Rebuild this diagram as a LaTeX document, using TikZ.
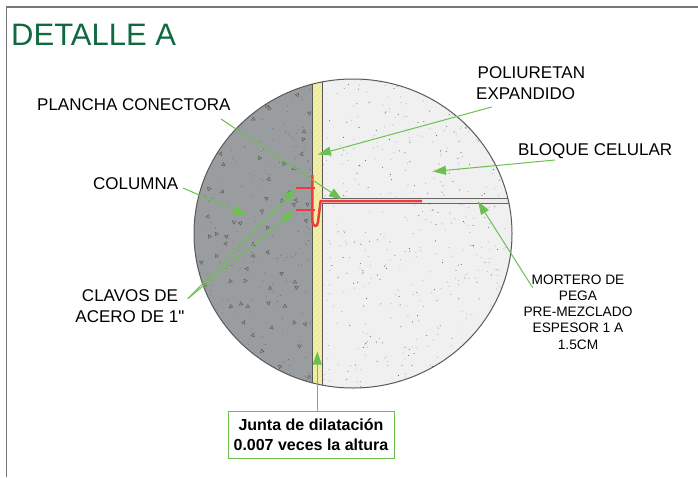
\documentclass[tikz,border=0pt]{standalone}
\usepackage{fontspec}
\setmainfont{Liberation Sans}
\newfontfamily\plainquote{Liberation Sans}
\usetikzlibrary{arrows.meta}
\definecolor{leader}{HTML}{6CC04F}
\definecolor{titlegreen}{HTML}{11693F}
\definecolor{framegray}{HTML}{777777}
\definecolor{colgray}{HTML}{9A9D9F}
\definecolor{blockgray}{HTML}{F0F0F0}
\definecolor{jointyellow}{HTML}{F3F0A2}
\definecolor{steelred}{HTML}{EE3B3B}
\tikzset{
  leaderline/.style={draw=leader,line width=1pt,-{Triangle[length=13pt,width=9pt]}},
  label text/.style={font=\fontsize{17}{21}\selectfont,text=black,inner sep=0pt,align=center},
  small label/.style={font=\fontsize{13.7}{16.2}\selectfont,text=black,inner sep=0pt,align=center},
  steel/.style={draw=steelred,line width=2.5pt},
  wall/.style={draw=black!65,line width=0.9pt}
}
\begin{document}
\begin{tikzpicture}[x=1pt,y=-1pt]
\useasboundingbox (0,0) rectangle (698,477);
\fill[white] (0,0) rectangle (698,477);
\draw[framegray,line width=1.1pt] (6.5,477) -- (6.5,7) -- (698,7);
\node[anchor=west,inner sep=0pt,text=titlegreen,font=\fontsize{31}{34}\selectfont] (title) at (11,35) {DETALLE A};
\begin{scope}
  \clip (353,233.5) ellipse [x radius=159,y radius=154.5];
  \fill[colgray] (190,70) rectangle (312.5,395);
  \fill[blockgray] (322,70) rectangle (515,395);
  \fill[jointyellow] (312.5,70) rectangle (322,395);
  \begin{scope}
    \clip (312.5,70) rectangle (322,395);
    \foreach \k in {0,5,...,330}
      \draw[white!60!jointyellow!85!black,line width=0.3pt] (312,70+\k) -- (323,59+\k);
  \end{scope}
  \pgfmathsetseed{4217}
  % block speckle
  \foreach \i in {1,...,420}{
    \pgfmathsetmacro\px{323+rnd*188}
    \pgfmathsetmacro\py{78+rnd*312}
    \pgfmathsetmacro\pc{rnd<0.45?70:35}
    \fill[black!\pc] (\px,\py) circle (0.5);
  }
  \foreach \i in {1,...,90}{
    \pgfmathsetmacro\px{323+rnd*188}
    \pgfmathsetmacro\py{78+rnd*312}
    \fill[black!15] (\px,\py) circle (1);
  }
  % column speckle
  \foreach \i in {1,...,240}{
    \pgfmathsetmacro\px{194+rnd*117}
    \pgfmathsetmacro\py{78+rnd*312}
    \fill[black!65] (\px,\py) circle (0.4);
  }
  % column aggregate triangles
  \foreach \i in {1,...,85}{
    \pgfmathsetmacro\px{194+rnd*117}
    \pgfmathsetmacro\py{78+rnd*312}
    \pgfmathsetmacro\pa{rnd*360}
    \draw[black!65,line width=0.45pt,rotate around={\pa:(\px,\py)}]
      (\px-1.8,\py+1.3) -- (\px+1.8,\py+1.3) -- (\px,\py-1.8) -- cycle;
  }
  % mortar joint
  \fill[white!92!black] (322,198.5) rectangle (515,203.2);
  \draw[black!60,line width=0.9pt] (321.5,198.5) -- (515,198.5);
  \draw[black!60,line width=0.9pt] (321.5,203.2) -- (515,203.2);
  \draw[wall] (312.5,70) -- (312.5,395);
  \draw[wall] (322,70) -- (322,198.5);
  \draw[wall] (322,203.2) -- (322,395);
\end{scope}
\draw[black!65,line width=1pt] (353,233.5) ellipse [x radius=159,y radius=154.5];
% connector plate and nails
\draw[steel,line join=round] (312.3,175) -- (312.3,221) .. controls (312.6,227) and (317.5,228) .. (318,222) -- (320.6,201) -- (422,201);
\draw[steel] (296,188) -- (315,188);
\draw[steel] (296,210) -- (315,210);
% labels
\node[label text,anchor=west] (plancha) at (37,105) {PLANCHA CONECTORA};
\node[label text,anchor=west] (columna) at (93,183.5) {COLUMNA};
\node[label text] (clavos) at (130,306.5) {CLAVOS DE\\ACERO DE 1{\plainquote\char34}};
\node[label text,align=left,anchor=west] (poli) at (476,83) {\hspace{1.5pt}POLIURETAN\\EXPANDIDO};
\node[label text,anchor=west] (bloque) at (518,151) {BLOQUE CELULAR};
\node[small label] (mortero) at (578,312) {MORTERO DE\\PEGA\\PRE-MEZCLADO\\ESPESOR 1 A\\1.5CM};
\node[draw=leader,line width=1pt,fill=white,minimum width=166pt,minimum height=47pt,inner sep=0pt,align=center,font=\bfseries\fontsize{16}{20}\selectfont] (junta) at (311,434.5) {Junta de dilatación\\0.007 veces la altura};
% leader ends
\coordinate (sPlancha) at (221,119);  \coordinate (tPlancha) at (342,199.5);
\coordinate (sPoli) at (491.7,107);   \coordinate (tPoli) at (318,154.5);
\coordinate (sBloque) at (555,160);   \coordinate (tBloque) at (433,171.5);
\coordinate (sColumna) at (183,188);  \coordinate (tColumna) at (246.5,215.5);
\coordinate (sClavos) at (188,298.5); \coordinate (tClavosA) at (295.5,189); \coordinate (tClavosB) at (294,211);
\coordinate (sMortero) at (532.7,287.7); \coordinate (tMortero) at (478,201.5);
\coordinate (tJunta) at (317.3,351.5);
\draw[leaderline] (sPlancha) -- (tPlancha);
\draw[leaderline] (sPoli) -- (tPoli);
\draw[leaderline] (sBloque) -- (tBloque);
\draw[leaderline] (sColumna) -- (tColumna);
\draw[leaderline] (sClavos) -- (tClavosA);
\draw[leaderline] (sClavos) -- (tClavosB);
\draw[leaderline] (sMortero) -- (tMortero);
\draw[leaderline] (junta.north -| tJunta) -- (tJunta);
\end{tikzpicture}
\end{document}
